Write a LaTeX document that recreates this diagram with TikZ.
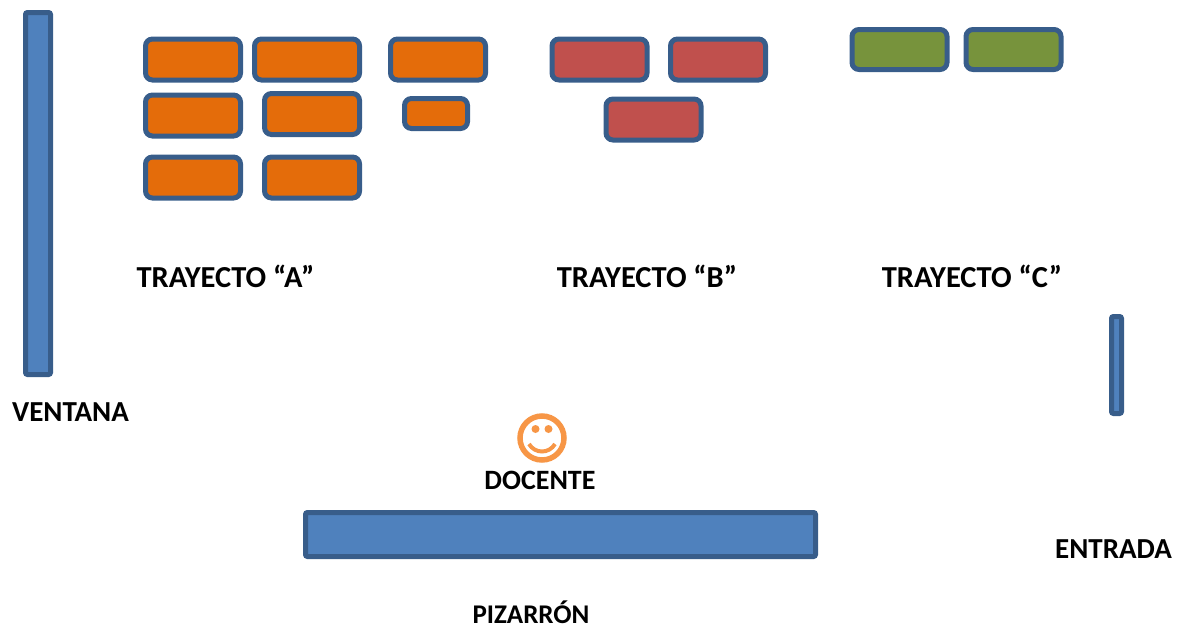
\documentclass[tikz,border=0pt]{standalone}
\usepackage{fontspec}
\setmainfont{Carlito}
\definecolor{rim}{HTML}{385D8A}
\definecolor{deskA}{HTML}{E46C0A}
\definecolor{deskB}{HTML}{C0504D}
\definecolor{deskC}{HTML}{77933C}
\definecolor{wall}{HTML}{4F81BD}
\definecolor{face}{HTML}{F79646}
\begin{document}
\begin{tikzpicture}[x=1pt,y=-1pt,
  desk/.style={rectangle,draw=rim,line width=5pt,rounded corners=7pt,inner sep=0pt,minimum width=95pt,minimum height=41pt},
  bar/.style={rectangle,draw=rim,fill=wall,line width=5pt,rounded corners=2pt,inner sep=0pt},
  label/.style={font=\fontsize{29}{32}\selectfont\bfseries,anchor=base,inner sep=0pt}]
  \useasboundingbox (0,0) rectangle (1177,629);
  % trayecto A
  \foreach \n/\x/\y in {a1/193/59.5, a3/438/59.5, a4/193/115.5, a5/312/114, a7/193/177.5, a8/312/177.5}
    {\node[desk,fill=deskA] (\n) at (\x,\y) {};}
  \node[desk,fill=deskA,minimum width=105pt] (a2) at (307,59.5) {};
  \node[desk,fill=deskA,minimum width=63pt,minimum height=30pt] (a6) at (436,113.5) {};
  % trayecto B
  \foreach \n/\x/\y in {b1/599.5/59.5, b2/718/59.5, b3/653.5/119.5}
    {\node[desk,fill=deskB] (\n) at (\x,\y) {};}
  % trayecto C
  \foreach \n/\x in {c1/899.5, c2/1013.5}
    {\node[desk,fill=deskC,minimum height=40pt] (\n) at (\x,49.5) {};}

  \node[bar,minimum width=25pt,minimum height=362pt] (ventana) at (38,193.5) {};
  \node[bar,minimum width=10pt,minimum height=97pt] (entrada) at (1116.5,365) {};
  \node[bar,minimum width=510pt,minimum height=44pt] (pizarron) at (560.5,534.5) {};

  \node[circle,draw=face,line width=5.5pt,minimum size=44pt,inner sep=0pt] (docente) at (542,438) {};
  \fill[face] (535.5,429) circle (4) (548.5,429) circle (4);
  \draw[face,line width=4pt] (529,444) .. controls (535,454) and (549,454) .. (555,444);

  \node[label,font=\fontsize{30.5}{33}\selectfont\bfseries] (trA) at (225.5,287) {TRAYECTO “A”};
  \node[label,font=\fontsize{30.5}{33}\selectfont\bfseries] (trB) at (647,287) {TRAYECTO “B”};
  \node[label,font=\fontsize{30.5}{33}\selectfont\bfseries] (trC) at (972,287) {TRAYECTO “C”};
  \node[label] (tVentana) at (70.5,421) {VENTANA};
  \node[label,font=\fontsize{28}{31}\selectfont\bfseries] (tDocente) at (540,489) {DOCENTE};
  \node[label] (tEntrada) at (1113.5,558) {ENTRADA};
  \node[label,font=\fontsize{27}{30}\selectfont\bfseries] (tPizarron) at (531,623) {PIZARRÓN};
\end{tikzpicture}
\end{document}
